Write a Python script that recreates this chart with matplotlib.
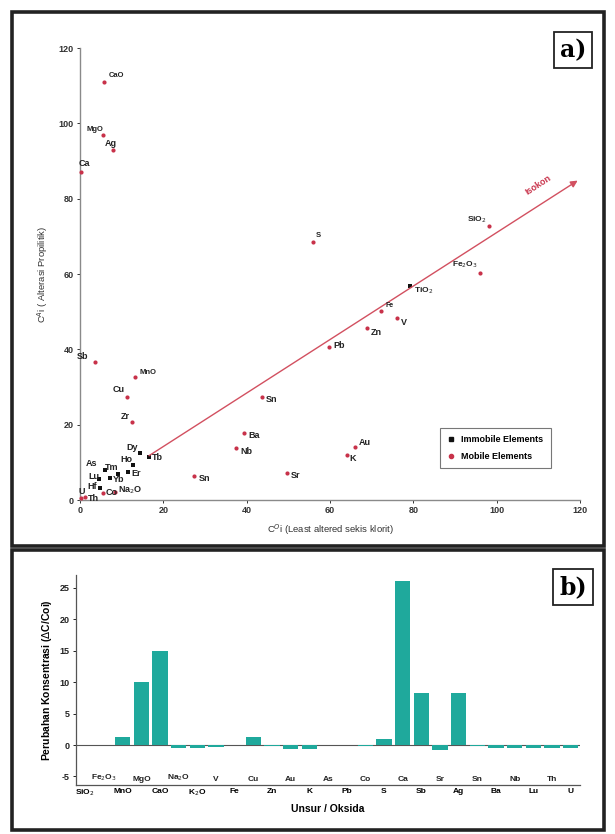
import matplotlib
matplotlib.use("Agg")
import matplotlib.pyplot as plt
from matplotlib.patches import Rectangle
from matplotlib.lines import Line2D

plt.rcParams['font.family'] = ['Liberation Sans', 'DejaVu Sans']
plt.rcParams['axes.unicode_minus'] = False

# ---------------- Panel a data (isocon) ----------------
mob_names = ["CaO", "MgO", "Ag", "Ca", "S", "SiO$_2$", "Fe$_2$O$_3$", "Fe", "V", "Zn", "Pb",
             "Sb", "MnO", "Cu", "Zr", "Sn", "Ba", "Nb", "Sr", "Au", "K", "Sn",
             "Co", "Na$_2$O", "Th", "U"]
mob_x = [5.8, 5.5, 7.9, 0.3, 56.0, 98.2, 96.0, 72.2, 76.0, 68.8, 59.8,
         3.6, 13.2, 11.2, 12.4, 43.6, 39.4, 37.4, 49.7, 66.0, 64.0, 27.4,
         5.6, 8.4, 1.2, 0.3]
mob_y = [111.0, 97.0, 93.0, 87.0, 68.5, 72.7, 60.2, 50.1, 48.2, 45.6, 40.6,
         36.6, 32.6, 27.4, 20.7, 27.4, 17.8, 13.8, 7.1, 14.1, 12.0, 6.4,
         1.9, 2.1, 0.8, 0.4]

imm_names = ["TiO$_2$", "Dy", "Tb", "Ho", "Er", "Tm", "Yb", "As", "Lu", "Hf"]
imm_x = [79.2, 14.5, 16.5, 12.8, 11.6, 9.2, 7.2, 6.0, 4.6, 4.8]
imm_y = [56.8, 12.5, 11.5, 9.3, 7.4, 7.0, 5.8, 8.0, 5.5, 3.2]

isocon_x = [16.0, 120.0]
isocon_slope = 0.71

# ---------------- Panel b data (bars) ----------------
b_cats = ["SiO$_2$", "Fe$_2$O$_3$", "MnO", "MgO", "CaO", "Na$_2$O", "K$_2$O", "V", "Fe", "Cu",
          "Zn", "Au", "K", "As", "Pb", "Co", "S", "Ca", "Sb", "Sr", "Ag", "Sn", "Ba",
          "Nb", "Lu", "Th", "U"]
b_vals = [0.0, 0.0, 1.3, 10.0, 15.0, -0.5, -0.4, -0.3, 0.0, 1.3,
          -0.1, -0.6, -0.6, 0.0, 0.0, -0.2, 0.9, 26.0, 8.2, -0.8, 8.2, -0.1, -0.5,
          -0.5, -0.5, -0.5, -0.5]

W, H = 615, 834
fig = plt.figure(figsize=(W / 100, H / 100), dpi=100)

def fx(px):
    return px / W

def fy(py):
    return 1 - py / H

# Frames
fig.patches.append(Rectangle((fx(12), fy(546)), fx(604) - fx(12), fy(12) - fy(546),
                             transform=fig.transFigure, fill=False, lw=2.6, ec='#222222'))
fig.patches.append(Rectangle((fx(12), fy(830)), fx(604) - fx(12), fy(550) - fy(830),
                             transform=fig.transFigure, fill=False, lw=2.6, ec='#222222'))

# ---------------- Panel a ----------------
axa = fig.add_axes([fx(80), fy(500), fx(580) - fx(80), fy(48) - fy(500)])
axa.set_xlim(0, 120)
axa.set_ylim(0, 120)
for s in ['top', 'right']:
    axa.spines[s].set_visible(False)
for s in ['left', 'bottom']:
    axa.spines[s].set_color('#8a8a8a')
    axa.spines[s].set_linewidth(1.0)
axa.set_xticks([0, 20, 40, 60, 80, 100, 120])
axa.set_yticks([0, 20, 40, 60, 80, 100, 120])
axa.tick_params(labelsize=6.5, colors='#333333', length=2.5, width=0.7, pad=2)
for t in axa.get_xticklabels() + axa.get_yticklabels():
    t.set_fontweight('bold')
axa.set_xlabel("C$^{O}$i (Least altered sekis klorit)", fontsize=6.8, color='#333333', labelpad=5)
axa.set_ylabel("C$^{A}$i ( Alterasi Propilitik)", fontsize=6.8, color='#333333', labelpad=6)

red = '#c8324a'
axa.scatter(mob_x, mob_y, s=9, color=red, marker='o', zorder=3, clip_on=False, linewidths=0)
axa.scatter(imm_x, imm_y, s=9, color='#111111', marker='s', zorder=3, clip_on=False, linewidths=0)

# Isocon line with arrow
x0, x1 = isocon_x
axa.annotate("", xy=(x1, isocon_slope * x1), xytext=(x0, isocon_slope * x0),
             arrowprops=dict(arrowstyle='-|>', color='#d25060', lw=1.0, mutation_scale=10),
             annotation_clip=False)
axa.text(110, isocon_slope * 110 + 2.5, "Isokon", color='#c8324a', fontsize=6.5,
         fontweight='bold', rotation=33, ha='center', va='bottom')

# Labels with offsets (points)
mob_off = {
    0: (3, 2), 1: (-12, 1), 2: (-6, 1), 3: (-2, 3), 4: (2, 2), 5: (-16, 1), 6: (-20, 2),
    7: (3, 2), 8: (3, -6), 9: (3, -6), 10: (3, -2), 11: (-13, 1), 12: (3, 1), 13: (-10, 2),
    14: (-8, 1), 15: (3, -5), 16: (3, -5), 17: (3, -6), 18: (3, -5), 19: (3, 0), 20: (2, -6),
    21: (3, -5), 22: (2, -3), 23: (2, -3), 24: (2, -4), 25: (-2, 2),
}
mob_fs = {0: 5.5, 1: 5.5, 4: 5.5, 5: 6.0, 6: 6.0, 7: 5.0, 12: 5.5}
for i, (n, x, y) in enumerate(zip(mob_names, mob_x, mob_y)):
    dx, dy = mob_off.get(i, (3, 0))
    axa.annotate(n, (x, y), xytext=(dx, dy), textcoords='offset points',
                 fontsize=mob_fs.get(i, 6.5), fontweight='bold', color='#222222',
                 ha='left', va='bottom', annotation_clip=False)

imm_off = {0: (3, -7), 1: (-10, 1), 2: (2, -4), 3: (-9, 1), 4: (2, -4), 5: (-10, 1),
           6: (2, -4), 7: (-14, 1), 8: (-8, -1), 9: (-9, -2)}
for i, (n, x, y) in enumerate(zip(imm_names, imm_x, imm_y)):
    dx, dy = imm_off.get(i, (3, 0))
    axa.annotate(n, (x, y), xytext=(dx, dy), textcoords='offset points',
                 fontsize=6.5 if i else 6.0, fontweight='bold', color='#222222',
                 ha='left', va='bottom', annotation_clip=False)

handles = [Line2D([], [], marker='s', ls='', color='#111111', ms=3),
           Line2D([], [], marker='o', ls='', color=red, ms=3)]
leg = axa.legend(handles, ["Immobile Elements", "Mobile Elements"], loc='lower left',
                 bbox_to_anchor=(0.71, 0.06), prop=dict(size=6.5, weight='bold'),
                 frameon=True, fancybox=False, edgecolor='#555555', handlelength=1.0,
                 handletextpad=0.6, borderpad=0.8, labelspacing=0.9)
leg.get_frame().set_linewidth(0.8)

fig.text(fx(573), fy(50), "a)", fontsize=17, fontweight='bold', family='DejaVu Serif',
         ha='center', va='center',
         bbox=dict(boxstyle='square,pad=0.25', fc='white', ec='#222222', lw=1.3))

# ---------------- Panel b ----------------
axb = fig.add_axes([fx(76), fy(785), fx(580) - fx(76), fy(575) - fy(785)])
idx = list(range(len(b_cats)))
axb.bar(idx, b_vals, width=0.82, color='#1fa99c', zorder=2)
axb.axhline(0, color='#555555', lw=0.8, zorder=1)
axb.set_xlim(-0.5, len(b_cats) - 0.5)
axb.set_ylim(-6.35, 27)
for s in ['top', 'right']:
    axb.spines[s].set_visible(False)
for s in ['left', 'bottom']:
    axb.spines[s].set_color('#555555')
    axb.spines[s].set_linewidth(0.9)
axb.set_yticks([-5, 0, 5, 10, 15, 20, 25])
axb.tick_params(axis='y', labelsize=6.5, length=2.5, width=0.7, pad=2, colors='#222222')
for t in axb.get_yticklabels():
    t.set_fontweight('bold')
axb.set_xticks(idx[::2])
axb.set_xticklabels(b_cats[::2], fontsize=6, fontweight='bold')
axb.tick_params(axis='x', length=0, pad=2)
for i in idx[1::2]:
    axb.text(i, 0.01, b_cats[i], transform=axb.get_xaxis_transform(), ha='center', va='bottom',
             fontsize=6, fontweight='bold', color='#222222')
axb.set_xlabel("Unsur / Oksida", fontsize=7.5, fontweight='bold', labelpad=4)
axb.set_ylabel("Perubahan Konsentrasi ($\\Delta$C/Coi)", fontsize=7.5, fontweight='bold', labelpad=4)

fig.text(fx(573), fy(587), "b)", fontsize=17, fontweight='bold', family='DejaVu Serif',
         ha='center', va='center',
         bbox=dict(boxstyle='square,pad=0.25', fc='white', ec='#222222', lw=1.3))

fig.savefig("out.png", dpi=100, facecolor='white')
